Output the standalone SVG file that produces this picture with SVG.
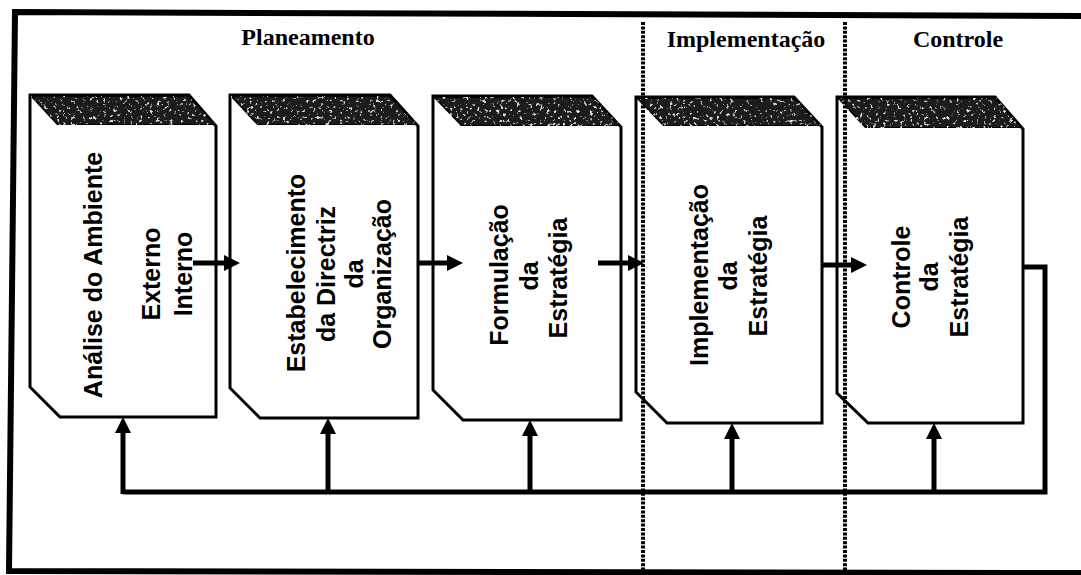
<svg xmlns="http://www.w3.org/2000/svg" width="1081" height="575" viewBox="0 0 1081 575">
<defs>
<style>
.box{fill:#fff;stroke:#000;stroke-width:3;stroke-linejoin:miter}
.band{fill:#1a1a1a;stroke:#000;stroke-width:1.5;filter:url(#grain)}
.hdr{font-family:"Liberation Serif","Times New Roman",serif;font-weight:bold;font-size:24px;fill:#000;text-anchor:middle}
.lbl{font-family:"Liberation Sans",Arial,sans-serif;font-weight:bold;font-size:25px;fill:#000;text-anchor:middle}
.arr{fill:none;stroke:#000;stroke-width:5;marker-end:url(#ah)}
.bus{fill:none;stroke:#000;stroke-width:5;stroke-linejoin:miter}
.dot{fill:none;stroke:#000;stroke-width:4;stroke-dasharray:3 1.4}
</style>
<marker id="ah" viewBox="0 0 16 16" markerWidth="16" markerHeight="16" refX="8" refY="8" orient="auto" markerUnits="userSpaceOnUse">
<path d="M0,0 L16,8 L0,16 z" fill="#000"/>
</marker>
<filter id="grain" x="0" y="0" width="100%" height="100%">
<feTurbulence type="fractalNoise" baseFrequency="0.3" numOctaves="3" seed="7" result="noise"/>
<feColorMatrix in="noise" type="matrix" values="0 0 0 0 0.75  0 0 0 0 0.75  0 0 0 0 0.75  8 0 0 0 -5" result="spots"/>
<feComposite in="spots" in2="SourceGraphic" operator="in" result="s2"/>
<feMerge><feMergeNode in="SourceGraphic"/><feMergeNode in="s2"/></feMerge>
</filter>
</defs>
<rect width="1081" height="575" fill="#fff"/>
<path d="M1081,16 L15,12 L9,571 L1081,573" fill="none" stroke="#000" stroke-width="6" stroke-linejoin="miter"/>
<g id="headers">
<text class="hdr" x="308" y="45">Planeamento</text>
<text class="hdr" x="746" y="47">Implementação</text>
<text class="hdr" x="958" y="47">Controle</text>
</g>
<g id="node-analise">
<path class="box" d="M30,95 H189 L216,126 V417 H60 L30,387 Z"/>
<path class="band" d="M31,96 H189 L215,125 H58 Z"/>
<text class="lbl" transform="translate(102,275) rotate(-90)">Análise do Ambiente</text>
<text class="lbl" transform="translate(160,274) rotate(-90)">Externo</text>
<text class="lbl" transform="translate(192,274) rotate(-90)">Interno</text>
</g>
<g id="node-estabelecimento">
<path class="box" d="M230,95 H390 L418,126 V418 H260 L230,388 Z"/>
<path class="band" d="M231,96 H390 L417,125 H258 Z"/>
<text class="lbl" transform="translate(305,273) rotate(-90)">Estabelecimento</text>
<text class="lbl" transform="translate(335,274) rotate(-90)">da Directriz</text>
<text class="lbl" transform="translate(363,274) rotate(-90)">da</text>
<text class="lbl" transform="translate(391,274) rotate(-90)">Organização</text>
</g>
<g id="node-formulacao">
<path class="box" d="M433,96 H592 L621,127 V420 H463 L433,390 Z"/>
<path class="band" d="M434,97 H592 L620,126 H462 Z"/>
<text class="lbl" transform="translate(508,275) rotate(-90)">Formulação</text>
<text class="lbl" transform="translate(538,276) rotate(-90)">da</text>
<text class="lbl" transform="translate(567,278) rotate(-90)">Estratégia</text>
</g>
<g id="node-implementacao">
<path class="box" d="M636,97 H794 L822,127 V423 H667 L636,392 Z"/>
<path class="band" d="M637,98 H794 L821,126 H664 Z"/>
<text class="lbl" transform="translate(708,275) rotate(-90)">Implementação</text>
<text class="lbl" transform="translate(737,276) rotate(-90)">da</text>
<text class="lbl" transform="translate(767,276) rotate(-90)">Estratégia</text>
</g>
<g id="node-controle">
<path class="box" d="M837,97 H995 L1023,129 V423 H868 L837,393 Z"/>
<path class="band" d="M838,98 H995 L1022,128 H866 Z"/>
<text class="lbl" transform="translate(910,277) rotate(-90)">Controle</text>
<text class="lbl" transform="translate(938,277) rotate(-90)">da</text>
<text class="lbl" transform="translate(968,277) rotate(-90)">Estratégia</text>
</g>
<g id="phase-dividers">
<line class="dot" x1="643" y1="22" x2="643" y2="572"/>
<line class="dot" x1="845" y1="22" x2="845" y2="572"/>
</g>
<g id="connectors">
<path class="arr" d="M193,263 H232"/>
<path class="arr" d="M418,263 H455"/>
<path class="arr" d="M598,263 H636"/>
<path class="arr" d="M822,265 H859"/>
<path class="bus" d="M1022,267 H1045 V492 H123"/>
<path class="arr" d="M123,494 V425"/>
<path class="arr" d="M328,494 V426"/>
<path class="arr" d="M530,494 V428"/>
<path class="arr" d="M732,494 V431"/>
<path class="arr" d="M934,494 V431"/>
</g>
</svg>
